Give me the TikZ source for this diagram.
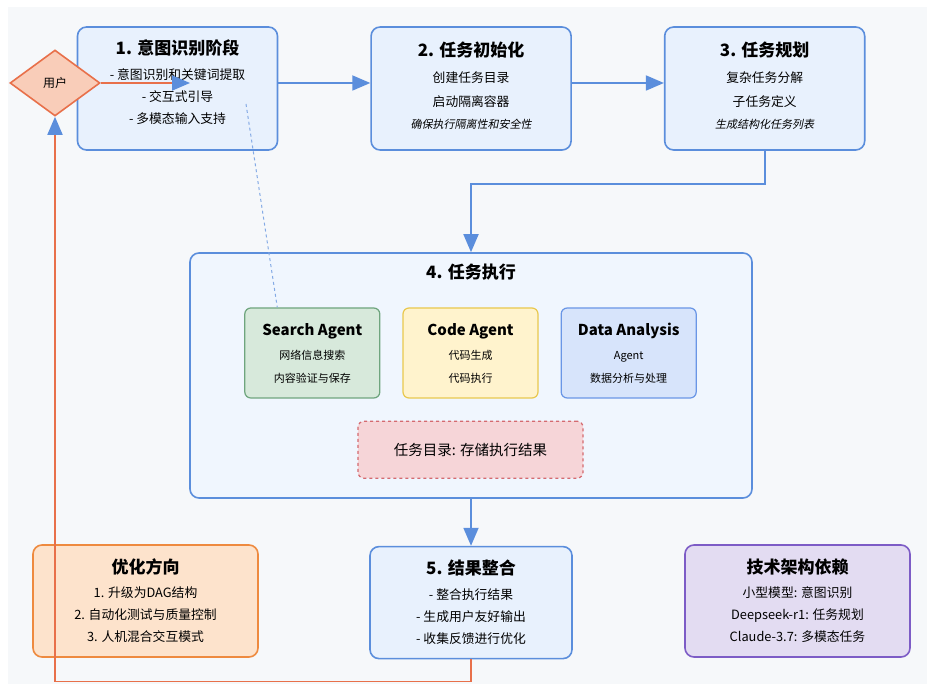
\documentclass[tikz,border=0pt]{standalone}
\usepackage{fontspec}
\setmainfont{Noto Sans CJK SC}
\newfontfamily\slantfont{Noto Sans CJK SC}[FakeSlant=0.2]
\usepackage{xcolor}
\usetikzlibrary{positioning,arrows.meta,shapes.geometric}

\definecolor{bgcol}{HTML}{F6F8FA}
\definecolor{stageline}{HTML}{5B8EDC}
\definecolor{stagefill}{HTML}{E8F1FD}
\definecolor{execfill}{HTML}{F0F6FE}
\definecolor{userline}{HTML}{E8704A}
\definecolor{userfill}{HTML}{F9CDB9}
\definecolor{searchline}{HTML}{6FA57E}
\definecolor{searchfill}{HTML}{D7E9DB}
\definecolor{codeline}{HTML}{E9C84E}
\definecolor{codefill}{HTML}{FFF3CD}
\definecolor{dataline}{HTML}{6A96E6}
\definecolor{datafill}{HTML}{D7E4FB}
\definecolor{storeline}{HTML}{D46A70}
\definecolor{storefill}{HTML}{F6D5D8}
\definecolor{optline}{HTML}{EE8A3F}
\definecolor{optfill}{HTML}{FDE3CC}
\definecolor{techline}{HTML}{7D5CC6}
\definecolor{techfill}{HTML}{E3DCF2}

\newcommand{\stagetitle}[1]{{\fontsize{17}{20}\selectfont\bfseries #1}}
\newcommand{\agenttitle}[1]{{\fontsize{15}{18}\selectfont\bfseries #1}}

\begin{document}
\begin{tikzpicture}[
  x=1pt, y=-1pt,
  node distance=92pt and 92pt,
  stage/.style={draw=stageline, fill=stagefill, line width=1.6pt, rounded corners=9pt, align=center,
    minimum width=200pt, minimum height=123pt, font=\fontsize{12.8}{22}\selectfont},
  user/.style={diamond, draw=userline, fill=userfill, line width=1.6pt, minimum width=90pt,
    minimum height=66pt, inner sep=0pt, font=\fontsize{12}{14}\selectfont},
  agent/.style={rounded corners=6pt, line width=1.2pt, align=center, minimum width=135pt,
    minimum height=90pt, font=\fontsize{11}{23}\selectfont},
  note/.style={rounded corners=9pt, line width=1.6pt, align=center, minimum width=225pt,
    minimum height=112pt, font=\fontsize{12.8}{22}\selectfont},
  arrow/.style={-{Triangle[length=18pt,width=15pt]}, line width=1.8pt, draw=stageline},
  looparrow/.style={-{Triangle[length=18pt,width=15pt,color=stageline]}, line width=1.8pt, draw=userline},
  dashline/.style={draw=stageline!75, dashed, line width=1pt}
]
\useasboundingbox (0,0) rectangle (927,684);
\fill[bgcol] (8,7) rectangle (927,684);

\node[stage] (s1) at (177.5,88.5) {\stagetitle{1. 意图识别阶段}\\[3pt]
- 意图识别和关键词提取\\ - 交互式引导\\ - 多模态输入支持\\[-8pt]\mbox{}};

\node[stage, right=of s1] (s2) {\stagetitle{2. 任务初始化}\\[4pt]
创建任务目录\\[2pt] 启动隔离容器\\ {\slantfont\fontsize{11}{13}\selectfont 确保执行隔离性和安全性}\\[-16pt]\mbox{}};
\draw[arrow] ([yshift=5.5pt]s1.east) -- ([yshift=5.5pt]s2.west);

\node[stage, right=of s2] (s3) {\stagetitle{3. 任务规划}\\[4pt]
复杂任务分解\\[2pt] 子任务定义\\ {\slantfont\fontsize{11}{13}\selectfont 生成结构化任务列表}\\[-16pt]\mbox{}};
\draw[arrow] ([yshift=5.5pt]s2.east) -- ([yshift=5.5pt]s3.west);

\node[user] (user) at (55,83) {用户};
\coordinate (userin) at (190,83);
\draw[looparrow] (user.east) -- (userin);

\node[draw=stageline, fill=execfill, line width=1.6pt, rounded corners=9pt,
  minimum width=562pt, minimum height=245pt] (exec) at (471,375.5) {};
\node[font=\fontsize{17}{20}\selectfont\bfseries, below=8pt of exec.north] (exectitle) {4. 任务执行};
\draw[arrow] (s3.south) -- ++(0,33) -| (exec.north);

\node[agent, draw=codeline, fill=codefill] (code) at (470.5,353) {\agenttitle{Code Agent}\\[1pt]
代码生成\\ 代码执行};
\node[agent, draw=searchline, fill=searchfill, left=22pt of code] (search) {\agenttitle{Search Agent}\\[1pt]
网络信息搜索\\ 内容验证与保存};
\node[agent, draw=dataline, fill=datafill, right=22pt of code] (data) {\agenttitle{Data Analysis}\\[1pt]
Agent\\ 数据分析与处理};

\node[draw=storeline, fill=storefill, dashed, line width=1.2pt, rounded corners=6pt,
  minimum width=225pt, minimum height=57pt, font=\fontsize{14.5}{17}\selectfont,
  below=22pt of code] (store) {任务目录: 存储执行结果};

\coordinate (hint) at (246,104);
\draw[dashline] (hint) -- ([xshift=-35pt]search.north);

\node[stage, minimum width=202pt, minimum height=112pt, below=47pt of exec] (s5) {\stagetitle{5. 结果整合}\\[3pt]
- 整合执行结果\\ - 生成用户友好输出\\ - 收集反馈进行优化};
\draw[arrow] (exec.south) -- (s5.north);

\node[note, draw=optline, fill=optfill] (opt) at (145.5,601) {\stagetitle{优化方向}\\[2pt]
1. 升级为DAG结构\\ 2. 自动化测试与质量控制\\ 3. 人机混合交互模式};

\node[note, draw=techline, fill=techfill] (tech) at (797.5,601) {\stagetitle{技术架构依赖}\\[2pt]
小型模型: 意图识别\\ Deepseek-r1: 任务规划\\ Claude-3.7: 多模态任务};

\draw[looparrow] (s5.south) -- ++(0,22) -| (user.south);
\end{tikzpicture}
\end{document}
